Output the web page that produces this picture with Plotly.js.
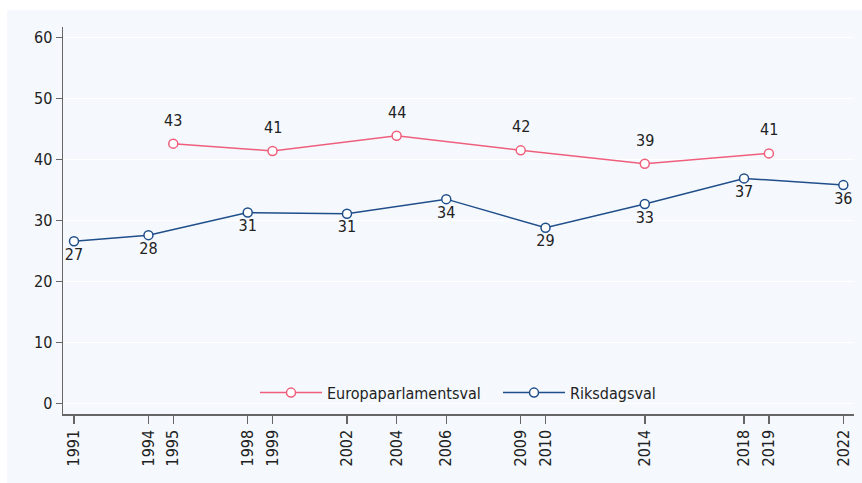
<!DOCTYPE html>
<html>
<head>
<meta charset="utf-8">
<script src="https://cdn.plot.ly/plotly-3.0.1.min.js"></script>
<style>html,body{margin:0;padding:0;background:#fff;}#chart{width:862px;height:483px;}</style>
</head>
<body>
<div id="chart"></div>
<script>
var euroYears = [1995, 1999, 2004, 2009, 2014, 2019];
var euroValues = [42.6, 41.4, 43.9, 41.5, 39.3, 41.0];
var euroLabels = ["43", "41", "44", "42", "39", "41"];

var riksYears = [1991, 1994, 1998, 2002, 2006, 2010, 2014, 2018, 2022];
var riksValues = [26.6, 27.6, 31.3, 31.1, 33.5, 28.8, 32.7, 36.9, 35.8];
var riksLabels = ["27", "28", "31", "31", "34", "29", "33", "37", "36"];

var xTickYears = [1991, 1994, 1995, 1998, 1999, 2002, 2004, 2006, 2009, 2010, 2014, 2018, 2019, 2022];
var yTickVals = [0, 10, 20, 30, 40, 50, 60];

var FONT = '"DejaVu Sans Condensed", "Liberation Sans Narrow", "Liberation Sans", sans-serif';
var FS = 16;
var euroColor = '#ef5f7c';
var riksColor = '#1f4e8a';
var panel = '#f5f9fe';
var txt = '#222';

var traces = [
  {
    x: euroYears, y: euroValues,
    name: 'Europaparlamentsval', type: 'scatter', mode: 'lines+markers',
    line: {color: euroColor, width: 1.5},
    marker: {symbol: 'circle', size: 9, color: '#fff', line: {color: euroColor, width: 1.5}},
    cliponaxis: false, legend: 'legend'
  },
  {
    x: riksYears, y: riksValues, text: riksLabels,
    name: 'Riksdagsval', type: 'scatter', mode: 'lines+markers+text',
    textposition: 'bottom center',
    textfont: {family: FONT, size: FS, color: txt},
    line: {color: riksColor, width: 1.5},
    marker: {symbol: 'circle', size: 9, color: '#fff', line: {color: riksColor, width: 1.5}},
    cliponaxis: false, legend: 'legend2'
  }
];

var annotations = euroYears.map(function (yr, i) {
  return {
    x: yr, y: euroValues[i], xref: 'x', yref: 'y', text: euroLabels[i],
    showarrow: false, xanchor: 'center', yanchor: 'middle', yshift: 23.5,
    font: {family: FONT, size: FS, color: txt}
  };
});

var legendBase = {
  orientation: 'h', xanchor: 'left', yanchor: 'middle', y: 0.055,
  bgcolor: 'rgba(0,0,0,0)', font: {family: FONT, size: FS, color: txt},
  itemwidth: 62, borderwidth: 0
};

var layout = {
  width: 862, height: 483,
  margin: {l: 63, r: 8, t: 27, b: 69, pad: 0},
  paper_bgcolor: '#ffffff',
  plot_bgcolor: panel,
  font: {family: FONT, size: FS, color: txt},
  showlegend: true,
  legend: Object.assign({}, legendBase, {x: (255 - 63) / 791}),
  legend2: Object.assign({}, legendBase, {x: (498 - 63) / 791}),
  annotations: annotations,
  xaxis: {
    range: [1990.557, 2022.43],
    tickmode: 'array', tickvals: xTickYears, ticktext: xTickYears.map(String),
    tickangle: -90, ticks: 'outside', ticklen: 8, tickwidth: 1.5, tickcolor: '#666',
    showline: true, linecolor: '#666', linewidth: 1.5,
    showgrid: false, zeroline: false,
    tickfont: {family: FONT, size: FS, color: txt}
  },
  yaxis: {
    range: [-1.72, 61.72],
    tickmode: 'array', tickvals: yTickVals,
    ticks: 'outside', ticklen: 6, tickwidth: 1.5, tickcolor: '#666',
    showline: true, linecolor: '#666', linewidth: 1.5,
    showgrid: true, gridcolor: '#ffffff', gridwidth: 1.5, zeroline: false,
    tickfont: {family: FONT, size: FS, color: txt}
  },
  shapes: [{
    type: 'rect', xref: 'paper', yref: 'paper', layer: 'below',
    x0: (7 - 63) / 791, x1: (862 - 63) / 791,
    y0: (414 - 483) / 387, y1: (414 - 10) / 387,
    fillcolor: panel, line: {width: 0}
  }]
};

Plotly.newPlot('chart', traces, layout, {displayModeBar: false, staticPlot: true});
</script>
</body>
</html>
